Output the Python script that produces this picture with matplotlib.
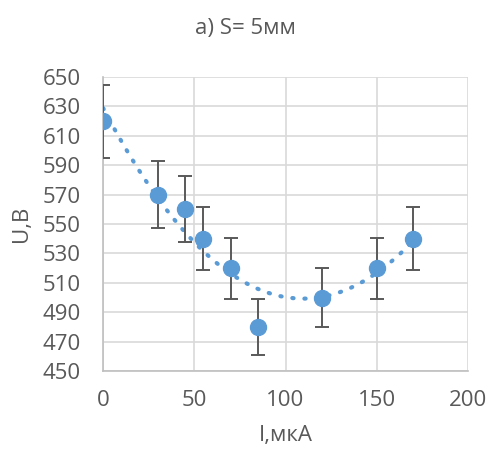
import numpy as np
import matplotlib.pyplot as plt

# data
current = [0, 30, 45, 55, 70, 85, 120, 150, 170]
voltage = [620, 570, 560, 540, 520, 480, 500, 520, 540]
err = [24.8, 22.8, 22.4, 21.6, 20.8, 19.2, 20.0, 20.8, 21.6]

xticks = [0, 50, 100, 150, 200]
yticks = [450, 470, 490, 510, 530, 550, 570, 590, 610, 630, 650]

blue = "#5b9bd5"
gray = "#595959"

plt.rcParams['font.family'] = ['Open Sans', 'DejaVu Sans']

fig = plt.figure(figsize=(4.91, 4.53), dpi=100)
ax = fig.add_axes([0.21, 0.181, 0.743, 0.649])

# polynomial trendline (order 2)
coef = np.polyfit(current, voltage, 2)
xs = np.linspace(0, 170, 200)
ax.plot(xs, np.polyval(coef, xs), linestyle=(0, (0.3, 2.6)), color=blue,
        linewidth=3, dash_capstyle="round", zorder=2)

ax.errorbar(current, voltage, yerr=err, fmt="none", ecolor=gray,
            elinewidth=1.4, capsize=5, capthick=1.4, zorder=3)
ax.plot(current, voltage, "o", color=blue, markersize=11.5, zorder=4)

ax.set_xlim(0, 200)
ax.set_ylim(450, 650)
ax.set_xticks(xticks)
ax.set_yticks(yticks)
ax.grid(True, color="#d9d9d9", linewidth=1.2)
ax.set_axisbelow(True)
for s in ["top", "right"]:
    ax.spines[s].set_visible(False)
for s in ["left", "bottom"]:
    ax.spines[s].set_color("#bfbfbf")
    ax.spines[s].set_linewidth(1.2)
ax.tick_params(length=0, labelsize=16, colors=gray)
ax.tick_params(axis="y", pad=16)
ax.tick_params(axis="x", pad=14)

ax.set_xlabel("I,мкА", fontsize=16, color=gray, labelpad=10)
ax.set_ylabel("U,B", fontsize=16, color=gray, labelpad=8)
fig.suptitle("a) S= 5мм", fontsize=16, color=gray, y=0.96)

plt.savefig("out.png")
